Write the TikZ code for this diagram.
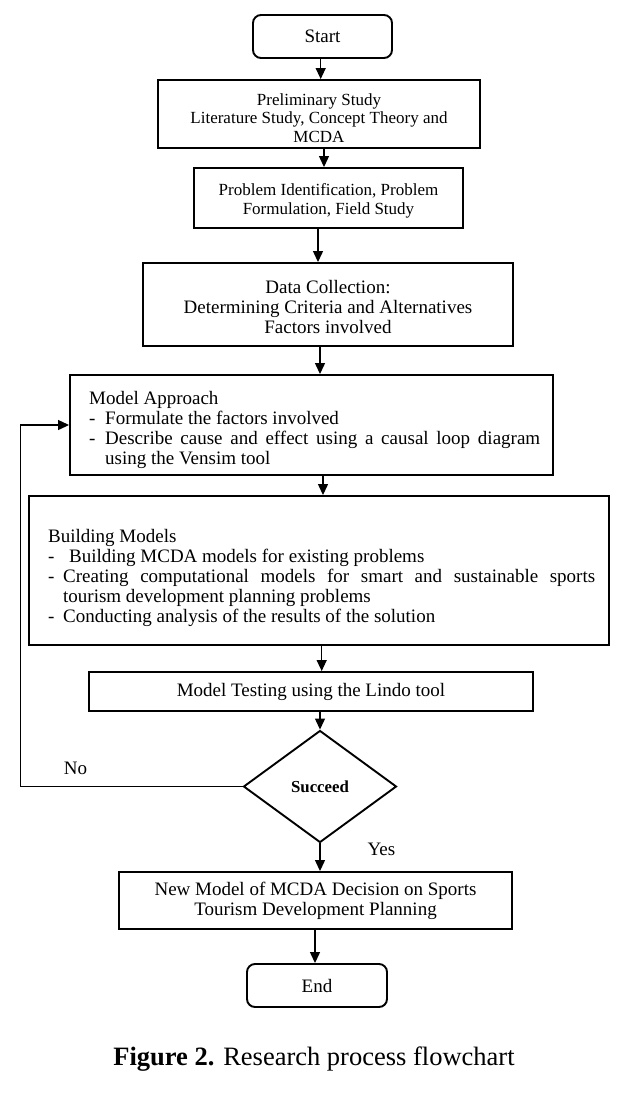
\documentclass[tikz,border=0pt]{standalone}
\usepackage{fontspec}
\setmainfont{Liberation Serif}
\usetikzlibrary{arrows.meta,shapes.geometric}
\begin{document}
\begin{tikzpicture}[x=1pt,y=-1pt,
  box/.style={draw=black,line width=1.9pt,inner sep=0pt,align=center,font=\fontsize{19}{20}\selectfont},
  term/.style={box,rounded corners=8pt},
  txt/.style={inner sep=0pt,align=center,font=\fontsize{19}{20}\selectfont},
  smalltxt/.style={txt,font=\fontsize{17}{18.5}\selectfont},
  arr/.style={line width=1.2pt,-{Triangle[width=10pt,length=11pt]}},
  lbl/.style={inner sep=0pt,anchor=base,font=\fontsize{19}{20}\selectfont}]
\useasboundingbox (0,0) rectangle (623,1096);
\fill[white] (0,0) rectangle (623,1096);

% boxes
\node[term,minimum width=139pt,minimum height=43pt] (start) at (322.5,36.5) {Start};
\node[box,minimum width=322pt,minimum height=68pt] (prelim) at (319,114) {};
\node[box,minimum width=269pt,minimum height=60pt] (prob) at (328.5,198) {};
\node[box,minimum width=370pt,minimum height=83pt] (data) at (328,304.5) {};
\node[box,minimum width=483pt,minimum height=100pt] (ma) at (311.5,425) {};
\node[box,minimum width=580pt,minimum height=149pt] (build) at (319,570.5) {};
\node[box,minimum width=444pt,minimum height=39pt] (test) at (311,691.5) {Model Testing using the Lindo tool};
\node[draw=black,line width=1.9pt,diamond,inner sep=0pt,aspect=1.37,minimum width=153pt,minimum height=112pt,font=\fontsize{16.8}{18}\selectfont\bfseries] (dec) at (320,786.5) {Succeed};
\node[box,minimum width=393pt,minimum height=57pt] (newm) at (315.5,900.5) {New Model of MCDA Decision on Sports\\Tourism Development Planning};
\node[term,minimum width=140pt,minimum height=43pt] (end) at (317,985.5) {End};

% box texts
\node[smalltxt] (prelimtext) at (319,118) {Preliminary Study\\Literature Study, Concept Theory and\\MCDA};
\node[smalltxt,font=\fontsize{17}{19}\selectfont] (probtext) at (328.5,201) {Problem Identification, Problem\\Formulation, Field Study};
\node[txt] (datatext) at (328,307) {Data Collection:\\Determining Criteria and Alternatives\\Factors involved};
\node[anchor=base west,inner sep=0pt] (matext) at (89,404) {\begin{minipage}[t]{451pt}\fontsize{19}{20.2}\selectfont
Model Approach\par
\hangindent=16pt\hangafter=1\makebox[16pt][l]{-}Formulate the factors involved\par
\hangindent=16pt\hangafter=1\makebox[16pt][l]{-}Describe cause and effect using a causal loop diagram\linebreak using the Vensim tool\par
\end{minipage}};
\node[anchor=base west,inner sep=0pt] (bmtext) at (48,542) {\begin{minipage}[t]{547pt}\fontsize{19}{20}\selectfont
Building Models\par
\hangindent=15pt\hangafter=1\makebox[15pt][l]{-}\hspace{6pt}Building MCDA models for existing problems\par
\hangindent=15pt\hangafter=1\makebox[15pt][l]{-}Creating computational models for smart and sustainable sports\linebreak tourism development planning problems\par
\hangindent=15pt\hangafter=1\makebox[15pt][l]{-}Conducting analysis of the results of the solution\par
\end{minipage}};

% labels
\node[lbl] (no) at (75.5,774) {No};
\node[lbl] (yes) at (381.5,855) {Yes};
\node[inner sep=0pt,anchor=base] (cap) at (314,1065) {\fontsize{26.5}{30}\selectfont\textbf{Figure 2.} Research process flowchart};

% arrow columns
\coordinate (a1) at (320.7,0);
\coordinate (a2) at (324,0);
\coordinate (a3) at (318,0);
\coordinate (a4) at (320,0);
\coordinate (a5) at (323,0);
\coordinate (a6) at (321.7,0);
\coordinate (a7) at (320,0);
\coordinate (a9) at (315,0);
\coordinate (lp) at (20.7,0);

\draw[arr] (start.south -| a1) -- (prelim.north -| a1);
\draw[arr] (prelim.south -| a2) -- (prob.north -| a2);
\draw[arr] (prob.south -| a3) -- (data.north -| a3);
\draw[arr] (data.south -| a4) -- (ma.north -| a4);
\draw[arr] (ma.south -| a5) -- (build.north -| a5);
\draw[arr] (build.south -| a6) -- (test.north -| a6);
\draw[arr] (test.south -| a7) -- (dec.north);
\draw[arr] (dec.south) -- (newm.north -| dec.south);
\draw[arr] (newm.south -| a9) -- (end.north -| a9);
\draw[arr] (dec.west) -- (dec.west -| lp) -- (lp |- ma.west) -- (ma.west);
\end{tikzpicture}
\end{document}
